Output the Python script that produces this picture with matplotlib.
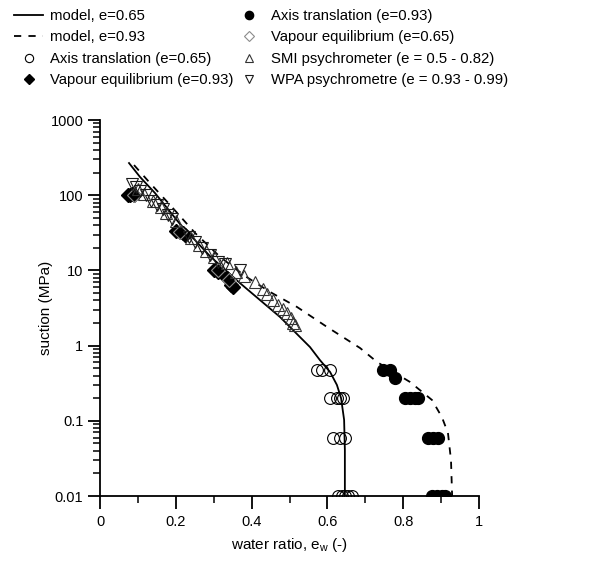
import matplotlib
matplotlib.use("Agg")
import matplotlib.pyplot as plt
from matplotlib.ticker import FixedLocator, LogLocator, NullFormatter

plt.rcParams['font.family'] = ['Liberation Sans', 'DejaVu Sans']

# model curves
model065_ew = [0.0765, 0.1055, 0.145, 0.211, 0.290, 0.369, 0.422, 0.475, 0.517,
               0.554, 0.580, 0.607, 0.625, 0.636, 0.644, 0.646, 0.646]
model065_s = [268, 175, 107, 41.4, 15.5, 6.8, 4.04, 2.40, 1.47,
              0.957, 0.644, 0.446, 0.30, 0.20, 0.103, 0.041, 0.01]

model093_ew = [0.0897, 0.132, 0.185, 0.251, 0.317, 0.383, 0.449, 0.520, 0.599,
               0.686, 0.731, 0.818, 0.876, 0.902, 0.918, 0.926, 0.929]
model093_s = [252, 145, 74, 31.4, 15.1, 8.4, 5.16, 3.26, 1.77,
              0.93, 0.605, 0.328, 0.189, 0.112, 0.069, 0.030, 0.01]

# axis translation, e=0.65 (open circles)
at065_ew = [0.573, 0.586, 0.607, 0.607, 0.625, 0.633, 0.641,
            0.615, 0.633, 0.646, 0.628, 0.638, 0.646, 0.654, 0.665]
at065_s = [0.47, 0.47, 0.47, 0.2, 0.2, 0.2, 0.2,
           0.06, 0.06, 0.06, 0.01, 0.01, 0.01, 0.01, 0.01]

# axis translation, e=0.93 (filled circles)
at093_ew = [0.747, 0.765, 0.778, 0.805, 0.818, 0.831, 0.839,
            0.866, 0.879, 0.892, 0.876, 0.889, 0.902, 0.910]
at093_s = [0.47, 0.47, 0.37, 0.2, 0.2, 0.2, 0.2,
           0.06, 0.06, 0.06, 0.01, 0.01, 0.01, 0.01]

# vapour equilibrium, e=0.93 (filled diamonds)
ve093_ew = [0.075, 0.08, 0.085, 0.09, 0.20, 0.21, 0.22, 0.225,
            0.30, 0.31, 0.335, 0.345, 0.35]
ve093_s = [100, 100, 105, 100, 33, 32, 31, 30,
           10, 9.5, 7.9, 6.5, 6.0]

# vapour equilibrium, e=0.65 (open diamonds)
ve065_ew = [0.09, 0.21, 0.31, 0.34]
ve065_s = [100, 32, 10, 7.5]

# SMI psychrometer (up triangles)
smi_ew = [0.10, 0.115, 0.14, 0.16, 0.175, 0.20, 0.24, 0.26, 0.28, 0.30,
          0.335, 0.36, 0.38, 0.41, 0.43, 0.44, 0.457, 0.47, 0.483, 0.493,
          0.503, 0.51, 0.515]
smi_s = [120, 105, 85, 70, 58, 45, 27, 22, 18, 15,
         12.5, 9.6, 8.5, 7.0, 5.6, 4.8, 4.0, 3.5, 3.1, 2.7,
         2.3, 2.0, 1.9]

# WPA psychrometre (down triangles)
wpa_ew = [0.085, 0.095, 0.105, 0.12, 0.135, 0.15, 0.165, 0.18, 0.19,
          0.235, 0.25, 0.27, 0.29, 0.31, 0.33, 0.37]
wpa_s = [140, 130, 115, 100, 85, 75, 65, 55, 48,
         28, 24, 20, 16, 13, 12, 10]

x_ticks = [0, 0.2, 0.4, 0.6, 0.8, 1]
x_labels = ['0', '0.2', '0.4', '0.6', '0.8', '1']
y_ticks = [0.01, 0.1, 1, 10, 100, 1000]
y_labels = ['0.01', '0.1', '1', '10', '100', '1000']

fig = plt.figure(figsize=(6.14, 5.62), dpi=100)
ax = fig.add_axes([0.1629, 0.1174, 0.6173, 0.669])

ms = 8.5
h1, = ax.plot(model065_ew, model065_s, '-', color='black', lw=1.3)
h2, = ax.plot(model093_ew, model093_s, color='black', lw=1.3, linestyle=(0, (4, 4)))
h3, = ax.plot(at065_ew, at065_s, 'o', ms=ms, mfc='none', mec='black', mew=0.8, ls='none')
h4, = ax.plot(ve093_ew, ve093_s, 'D', ms=ms * 0.8, mfc='black', mec='black', ls='none')
h5, = ax.plot(at093_ew, at093_s, 'o', ms=ms, mfc='black', mec='black', ls='none')
h6, = ax.plot(ve065_ew, ve065_s, 'D', ms=ms * 0.8, mfc='none', mec='0.55', mew=0.8, ls='none')
h7, = ax.plot(smi_ew, smi_s, '^', ms=ms, mfc='none', mec='0.2', mew=0.8, ls='none')
h8, = ax.plot(wpa_ew, wpa_s, 'v', ms=ms, mfc='none', mec='0.1', mew=0.8, ls='none')

ax.set_yscale('log')
ax.set_xlim(0, 1)
ax.set_ylim(0.01, 1000)
ax.set_xticks(x_ticks)
ax.set_xticklabels(x_labels)
ax.xaxis.set_minor_locator(FixedLocator([0.1, 0.3, 0.5, 0.7, 0.9]))
ax.set_yticks(y_ticks)
ax.set_yticklabels(y_labels)
ax.yaxis.set_minor_locator(LogLocator(base=10, subs=range(2, 10), numticks=20))
ax.yaxis.set_minor_formatter(NullFormatter())

for side in ['top', 'right']:
    ax.spines[side].set_visible(False)
for side in ['left', 'bottom']:
    ax.spines[side].set_linewidth(1.3)
ax.tick_params(which='major', direction='out', length=9, width=1.3, labelsize=10.5)
ax.tick_params(axis='y', which='major', pad=3)
ax.tick_params(axis='x', which='major', pad=5)
ax.tick_params(which='minor', direction='out', length=5, width=1.1)

ax.set_xlabel('water ratio, e$_\\mathregular{w}$ (-)', fontsize=11, labelpad=5)
ax.set_ylabel('suction (MPa)', fontsize=11, labelpad=-2)

labels = ['model, e=0.65', 'model, e=0.93', 'Axis translation (e=0.65)',
          'Vapour equilibrium (e=0.93)', 'Axis translation (e=0.93)',
          'Vapour equilibrium (e=0.65)', 'SMI psychrometer (e = 0.5 - 0.82)',
          'WPA psychrometre (e = 0.93 - 0.99)']
fig.legend([h1, h2, h3, h4, h5, h6, h7, h8], labels, ncol=2, loc='upper left',
           bbox_to_anchor=(0.009, 1.0), frameon=False, fontsize=10.7,
           handlelength=1.9, handletextpad=0.5, columnspacing=0.1,
           labelspacing=0.5, markerscale=0.7, borderaxespad=0.2)

fig.savefig('out.png', dpi=100)
